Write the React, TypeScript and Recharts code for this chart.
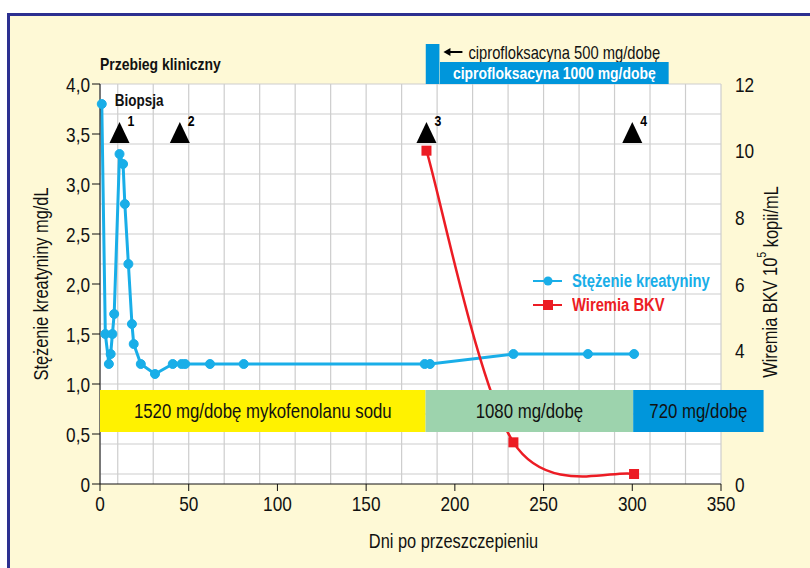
import React from 'react';
import {
  ComposedChart,
  Line,
  Scatter,
  XAxis,
  YAxis,
  CartesianGrid,
  ReferenceArea,
  ReferenceDot,
  Legend,
} from 'recharts';

// Helvetica Condensed look: Liberation Sans squeezed horizontally (like Arial Narrow)
const FONT = "'Liberation Sans', Arial, sans-serif";
const SQUEEZE = 0.82;

// Stężenie kreatyniny (mg/dL), dzień po przeszczepieniu
const creatinineDays = [1, 3, 5, 6, 7, 8, 11, 13, 14, 16, 18, 19, 23, 31, 41, 46, 48, 62, 81, 183, 186, 233, 275, 301];
const creatinineValues = [3.8, 1.5, 1.2, 1.3, 1.5, 1.7, 3.3, 3.2, 2.8, 2.2, 1.6, 1.4, 1.2, 1.1, 1.2, 1.2, 1.2, 1.2, 1.2, 1.2, 1.2, 1.3, 1.3, 1.3];

// Wiremia BKV (10^5 kopii/mL)
const bkvDays = [184, 233, 301];
const bkvValues = [10, 1.25, 0.3];

// zdarzenia kliniczne (trójkąty)
const eventDays = [11, 45, 184, 300];
const eventLabels = ['1', '2', '3', '4'];

// dawki mykofenolanu sodu
const doseLabels = ['1520 mg/dobę mykofenolanu sodu', '1080 mg/dobę', '720 mg/dobę'];
const doseFrom = [0, 183.5, 300.5];
const doseTo = [183.5, 300.5, 374];

// ciprofloksacyna
const ciproLabels = ['ciprofloksacyna 500 mg/dobę', 'ciprofloksacyna 1000 mg/dobę'];
const ciproFrom = [183.6, 191.6];
const ciproTo = [191.3, 320.5];

const xTicks = [0, 50, 100, 150, 200, 250, 300, 350];
const leftTicks = [0, 0.5, 1, 1.5, 2, 2.5, 3, 3.5, 4];
// "2" is hidden behind the 720 mg band in the original
const rightTicks = [0, 4, 6, 8, 10, 12];

const BLUE = '#19aee8';
const RED = '#ec1c24';
const DOSE_COLORS = ['#fff200', '#9dd3ad', '#0096db'];
const CIPRO_COLOR = '#0096db';

const creatinineData = creatinineDays.map((x, i) => ({ x, y: creatinineValues[i] }));
const bkvData = bkvDays.map((x, i) => ({ x, y: bkvValues[i] }));
const eventData = eventDays.map((x, i) => ({ x, y: 3.5, n: eventLabels[i] }));

const gridX = Array.from({ length: 36 }, (_, i) => i * 10);
const gridY = Array.from({ length: 41 }, (_, i) => i / 10);

// gładka krzywa (styl Excela) przechodząca przez punkty
const smoothCurve = (context: any) => {
  let pts: number[][] = [];
  return {
    areaStart() {},
    areaEnd() {},
    lineStart() {
      pts = [];
    },
    point(x: number, y: number) {
      pts.push([+x, +y]);
    },
    lineEnd() {
      const n = pts.length;
      if (!n) return;
      context.moveTo(pts[0][0], pts[0][1]);
      if (n === 1) return;
      const m = pts.map((_, i) => {
        const a = pts[Math.max(0, i - 1)];
        const b = pts[Math.min(n - 1, i + 1)];
        return [(b[0] - a[0]) / 2, (b[1] - a[1]) / 2];
      });
      for (let i = 0; i < n - 1; i++) {
        const p = pts[i];
        const q = pts[i + 1];
        context.bezierCurveTo(
          p[0] + m[i][0] / 3,
          p[1] + m[i][1] / 3,
          q[0] - m[i + 1][0] / 3,
          q[1] - m[i + 1][1] / 3,
          q[0],
          q[1]
        );
      }
    },
  };
};

const fmtLeft = (v: number) => (v === 0 ? '0' : v.toFixed(1).replace('.', ','));

const NarrowText = ({ x, y, anchor = 'start', size, weight = 'normal', fill = '#111', rotate = 0, baseline, children }: any) => (
  <text
    transform={`translate(${x} ${y}) rotate(${rotate}) scale(${SQUEEZE} 1)`}
    textAnchor={anchor}
    dominantBaseline={baseline}
    fontSize={size}
    fontWeight={weight}
    fontFamily={FONT}
    fill={fill}
  >
    {children}
  </text>
);

const XTick = (props: any) => (
  <NarrowText x={props.x} y={props.y + 15} anchor="middle" size={21}>
    {props.payload.value}
  </NarrowText>
);

const LeftTick = (props: any) => (
  <NarrowText x={props.x} y={props.y + 7.5} anchor="end" size={21}>
    {fmtLeft(props.payload.value)}
  </NarrowText>
);

const RightTick = (props: any) => (
  <NarrowText x={props.x} y={props.y + 7.5} anchor="start" size={21}>
    {props.payload.value}
  </NarrowText>
);

const SquareDot = (props: any) => {
  const { cx, cy } = props;
  if (cx == null || cy == null) return null;
  return <rect x={cx - 5} y={cy - 5} width={10} height={10} fill={RED} />;
};

const EventMarker = (props: any) => {
  const { cx, cy, payload } = props;
  return (
    <g>
      <polygon points={`${cx},${cy - 12} ${cx - 10},${cy + 9} ${cx + 10},${cy + 9}`} fill="#000" />
      <NarrowText x={cx + 8} y={cy - 8} size={15} weight="bold" fill="#000">
        {payload.n}
      </NarrowText>
    </g>
  );
};

const LeftTitle = (props: any) => {
  const { viewBox } = props;
  return (
    <NarrowText x={viewBox.x + 21} y={viewBox.y + viewBox.height / 2} rotate={-90} anchor="middle" baseline="central" size={20}>
      Stężenie kreatyniny mg/dL
    </NarrowText>
  );
};

const RightTitle = (props: any) => {
  const { viewBox } = props;
  return (
    <NarrowText x={viewBox.x + 49} y={viewBox.y + viewBox.height / 2 - 2} rotate={-90} anchor="middle" baseline="central" size={20}>
      Wiremia BKV 10<tspan fontSize={13} dy={-8}>5</tspan>
      <tspan dy={8}> kopii/mL</tspan>
    </NarrowText>
  );
};

const BottomTitle = (props: any) => {
  const { viewBox } = props;
  return (
    <NarrowText x={viewBox.x + viewBox.width / 2 + 43} y={viewBox.y + 64} anchor="middle" size={20}>
      Dni po przeszczepieniu
    </NarrowText>
  );
};

const AreaLabel = (props: any) => {
  const { viewBox, text, size, weight, fill } = props;
  return (
    <NarrowText
      x={viewBox.x + viewBox.width / 2}
      y={viewBox.y + viewBox.height / 2 + size * 0.36}
      anchor="middle"
      size={size}
      weight={weight}
      fill={fill}
    >
      {text}
    </NarrowText>
  );
};

const Cipro500Label = (props: any) => {
  const { viewBox } = props;
  const x = viewBox.x + viewBox.width;
  const y = viewBox.y + 8;
  return (
    <g>
      <line x1={x + 23} y1={y} x2={x + 8} y2={y} stroke="#000" strokeWidth={2} />
      <polygon points={`${x + 4},${y} ${x + 11},${y - 4} ${x + 11},${y + 4}`} fill="#000" />
      <NarrowText x={x + 29} y={y + 6.5} size={18}>
        {ciproLabels[0]}
      </NarrowText>
    </g>
  );
};

const squeezed: React.CSSProperties = {
  display: 'inline-block',
  transform: `scaleX(${SQUEEZE})`,
  transformOrigin: 'left center',
  whiteSpace: 'nowrap',
};

const LegendBox = () => (
  <div style={{ fontFamily: FONT, fontWeight: 'bold', fontSize: 18, lineHeight: '24px', whiteSpace: 'nowrap' }}>
    <div style={{ display: 'flex', alignItems: 'center', color: BLUE }}>
      <svg width={39} height={24} style={{ flex: 'none' }}>
        <line x1={0} y1={12} x2={29} y2={12} stroke={BLUE} strokeWidth={2} />
        <circle cx={15} cy={12} r={4.5} fill={BLUE} />
      </svg>
      <span style={squeezed}>Stężenie kreatyniny</span>
    </div>
    <div style={{ display: 'flex', alignItems: 'center', color: RED }}>
      <svg width={39} height={24} style={{ flex: 'none' }}>
        <line x1={0} y1={12} x2={29} y2={12} stroke={RED} strokeWidth={2} />
        <rect x={10} y={7} width={10} height={10} fill={RED} />
      </svg>
      <span style={squeezed}>Wiremia BKV</span>
    </div>
  </div>
);

export default function App() {
  return (
    <div style={{ position: 'absolute', left: 0, top: 0, width: 810, height: 568, background: '#fff', overflow: 'hidden' }}>
      <div
        style={{
          position: 'absolute',
          left: 7,
          top: 13,
          width: 810,
          height: 568,
          background: '#fef9d6',
          borderLeft: '3px solid #2c3090',
          borderTop: '3px solid #2c3090',
        }}
      />
      <div style={{ position: 'absolute', left: 0, top: 0 }}>
        <ComposedChart width={810} height={568} margin={{ top: 84, right: 20, bottom: 20, left: 20 }}>
          <CartesianGrid
            yAxisId="l"
            fill="#fff"
            fillOpacity={1}
            stroke="#cdcdcd"
            strokeWidth={1.2}
            verticalValues={gridX}
            horizontalValues={gridY}
          />
          <XAxis
            dataKey="x"
            type="number"
            domain={[0, 350]}
            ticks={xTicks}
            height={64}
            tickSize={7}
            tickMargin={5}
            stroke="#111"
            tick={<XTick />}
            label={<BottomTitle />}
          />
          <YAxis
            yAxisId="l"
            dataKey="y"
            type="number"
            domain={[0, 4]}
            ticks={leftTicks}
            width={80}
            tickSize={8}
            tickMargin={2}
            stroke="#111"
            tick={<LeftTick />}
            label={<LeftTitle />}
          />
          <YAxis
            yAxisId="r"
            orientation="right"
            type="number"
            domain={[0, 12]}
            ticks={rightTicks}
            width={69}
            axisLine={false}
            tickLine={false}
            tickSize={6}
            tickMargin={8}
            tick={<RightTick />}
            label={<RightTitle />}
          />
          <Line
            yAxisId="l"
            data={creatinineData}
            dataKey="y"
            type="linear"
            stroke={BLUE}
            strokeWidth={3}
            dot={{ r: 4.5, fill: BLUE, stroke: BLUE, strokeWidth: 1 }}
            isAnimationActive={false}
          />
          <Line
            yAxisId="r"
            data={bkvData}
            dataKey="y"
            type={smoothCurve as any}
            stroke={RED}
            strokeWidth={2.5}
            dot={<SquareDot />}
            isAnimationActive={false}
          />
          {doseLabels.map((lab, i) => (
            <ReferenceArea
              key={lab}
              yAxisId="l"
              x1={doseFrom[i]}
              x2={doseTo[i]}
              y1={0.52}
              y2={0.94}
              fill={DOSE_COLORS[i]}
              fillOpacity={1}
              stroke="none"
              ifOverflow="visible"
              zIndex={650}
              label={<AreaLabel text={lab} size={20.5} fill="#111" />}
            />
          ))}
          <ReferenceArea
            yAxisId="l"
            x1={ciproFrom[0]}
            x2={ciproTo[0]}
            y1={4.0}
            y2={4.4}
            fill={CIPRO_COLOR}
            fillOpacity={1}
            stroke="none"
            ifOverflow="visible"
            zIndex={650}
            label={<Cipro500Label />}
          />
          <ReferenceArea
            yAxisId="l"
            x1={ciproFrom[1]}
            x2={ciproTo[1]}
            y1={4.0}
            y2={4.22}
            fill={CIPRO_COLOR}
            fillOpacity={1}
            stroke="none"
            ifOverflow="visible"
            zIndex={650}
            label={<AreaLabel text={ciproLabels[1]} size={17} weight="bold" fill="#fff" />}
          />
          <Scatter
            yAxisId="l"
            data={eventData}
            dataKey="y"
            shape={<EventMarker />}
            isAnimationActive={false}
          />
          <ReferenceDot
            yAxisId="l"
            x={1}
            y={3.8}
            r={0}
            stroke="none"
            ifOverflow="visible"
            label={(p: any) => (
              <NarrowText x={p.viewBox.x + 13} y={p.viewBox.y + 2} size={16.5} weight="bold">
                Biopsja
              </NarrowText>
            )}
          />
          <Legend
            layout="horizontal"
            verticalAlign="middle"
            align="center"
            content={<LegendBox />}
            wrapperStyle={{ position: 'absolute', left: 533, top: 269, width: 220 }}
          />
        </ComposedChart>
      </div>
      <div
        style={{
          position: 'absolute',
          left: 100,
          top: 55,
          fontFamily: FONT,
          fontWeight: 'bold',
          fontSize: 17,
          color: '#111',
        }}
      >
        <span style={squeezed}>Przebieg kliniczny</span>
      </div>
    </div>
  );
}
